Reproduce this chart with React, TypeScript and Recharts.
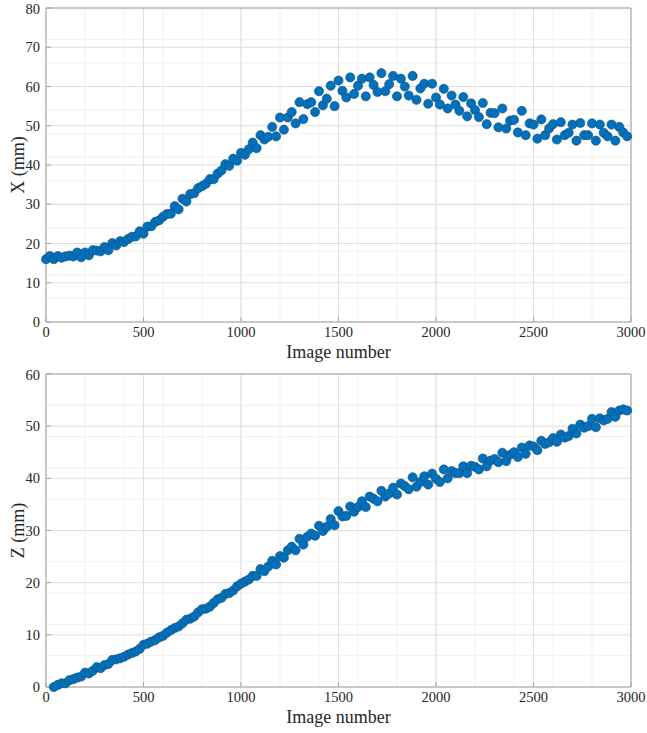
import React from 'react';
import {
  ScatterChart,
  Scatter,
  XAxis,
  YAxis,
  CartesianGrid
} from 'recharts';

// image numbers, one sample every 20 frames
const imageNumbers = [
  0, 20, 40, 60, 80, 100, 120, 140, 160, 180,
  200, 220, 240, 260, 280, 300, 320, 340, 360, 380,
  400, 420, 440, 460, 480, 500, 520, 540, 560, 580,
  600, 620, 640, 660, 680, 700, 720, 740, 760, 780,
  800, 820, 840, 860, 880, 900, 920, 940, 960, 980,
  1000, 1020, 1040, 1060, 1080, 1100, 1120, 1140, 1160, 1180,
  1200, 1220, 1240, 1260, 1280, 1300, 1320, 1340, 1360, 1380,
  1400, 1420, 1440, 1460, 1480, 1500, 1520, 1540, 1560, 1580,
  1600, 1620, 1640, 1660, 1680, 1700, 1720, 1740, 1760, 1780,
  1800, 1820, 1840, 1860, 1880, 1900, 1920, 1940, 1960, 1980,
  2000, 2020, 2040, 2060, 2080, 2100, 2120, 2140, 2160, 2180,
  2200, 2220, 2240, 2260, 2280, 2300, 2320, 2340, 2360, 2380,
  2400, 2420, 2440, 2460, 2480, 2500, 2520, 2540, 2560, 2580,
  2600, 2620, 2640, 2660, 2680, 2700, 2720, 2740, 2760, 2780,
  2800, 2820, 2840, 2860, 2880, 2900, 2920, 2940, 2960, 2980
];

// X position (mm), image 0 .. 2980
const xValues = [
  16.0, 16.8, 16.0, 16.8, 16.4, 16.7, 16.9, 16.7, 17.7, 16.5,
  17.7, 17.0, 18.3, 18.2, 18.0, 19.1, 18.3, 20.1, 19.5, 20.6,
  20.4, 21.1, 21.7, 21.8, 23.1, 22.5, 24.3, 24.4, 25.5, 25.9,
  26.8, 27.5, 27.6, 29.5, 28.7, 31.4, 30.7, 32.6, 32.8, 34.1,
  34.6, 35.2, 36.4, 36.4, 37.8, 38.6, 40.2, 39.8, 41.6, 41.1,
  43.1, 42.6, 44.0, 45.7, 44.3, 47.6, 46.5, 47.2, 49.7, 47.3,
  52.1, 49.0, 52.1, 53.5, 50.6, 56.0, 51.7, 55.5, 56.0, 53.5,
  58.8, 55.2, 56.9, 60.2, 55.0, 61.5, 58.9, 57.2, 62.3, 58.1,
  60.2, 62.0, 57.5, 62.3, 60.4, 58.6, 63.4, 58.8, 60.6, 62.7,
  57.5, 62.0, 60.0, 57.7, 62.7, 56.6, 59.5, 60.7, 55.6, 60.7,
  57.2, 55.4, 59.4, 54.4, 57.7, 55.4, 53.8, 57.3, 52.4, 55.7,
  54.0, 52.2, 55.8, 50.4, 53.3, 53.2, 49.6, 54.4, 49.3, 51.3,
  51.5, 48.3, 53.8, 47.6, 50.6, 50.3, 46.7, 51.6, 47.6, 49.3,
  50.4, 46.5, 50.9, 47.6, 48.2, 50.3, 46.2, 50.7, 47.6, 47.6,
  50.6, 46.2, 50.3, 48.2, 47.3, 50.3, 46.2, 49.7, 48.3, 47.3
];

// Z position (mm), image 40 .. 2980
const zValues = [
  0.0, 0.4, 0.7, 0.7, 1.3, 1.5, 1.8, 2.0, 2.75, 2.6,
  3.1, 3.8, 3.6, 4.2, 4.4, 5.2, 5.3, 5.5, 5.8, 6.2,
  6.5, 6.8, 7.3, 8.1, 8.3, 8.7, 9.0, 9.5, 9.8, 10.4,
  10.9, 11.3, 11.6, 12.2, 12.9, 13.1, 13.5, 14.3, 14.9, 15.0,
  15.4, 16.1, 16.8, 17.1, 17.85, 18.0, 18.5, 19.3, 19.8, 20.2,
  20.6, 21.3, 21.3, 22.6, 22.2, 23.1, 24.2, 23.5, 25.1, 24.8,
  26.2, 26.9, 26.2, 28.4, 27.3, 28.8, 29.4, 29.0, 30.9, 29.9,
  30.7, 32.2, 31.0, 33.7, 32.7, 32.8, 34.6, 33.6, 34.5, 35.6,
  34.5, 36.5, 36.1, 35.6, 37.6, 36.5, 37.1, 38.2, 36.9, 39.0,
  38.5, 37.9, 40.2, 38.4, 39.3, 40.4, 38.8, 40.9, 39.9, 39.3,
  41.7, 40.0, 41.4, 41.0, 41.0, 42.3, 41.0, 42.4, 42.2, 41.7,
  43.8, 42.3, 43.4, 43.7, 43.1, 44.9, 43.3, 44.5, 45.0, 44.1,
  45.9, 44.7, 46.3, 46.1, 45.4, 47.2, 46.6, 46.9, 47.7, 47.0,
  48.4, 47.8, 48.1, 49.5, 48.6, 50.3, 49.7, 50.0, 51.4, 49.8,
  51.5, 51.1, 51.4, 52.7, 51.8, 53.0, 53.2, 53.0
];

const xTicks = [0, 500, 1000, 1500, 2000, 2500, 3000];
const xTopTicks = [0, 10, 20, 30, 40, 50, 60, 70, 80];
const zTicks = [0, 10, 20, 30, 40, 50, 60];

const FONT = 'Liberation Serif';
const TICK_STYLE = { fontSize: 14.5, fill: '#262626', fontFamily: FONT, style: { fontFamily: FONT } };
const LABEL_STYLE = { fontSize: 18, fill: '#262626', fontFamily: FONT };
const AXIS_COLOR = '#a6a6a6';

const minorSteps = (max: number, step: number) => {
  const out: number[] = [];
  for (let v = 0; v <= max + 1e-9; v += step) out.push(Math.round(v * 100) / 100);
  return out;
};

const Dot = (props: any) => (
  <circle cx={props.cx} cy={props.cy} r={4.6} fill="#0072BD" stroke="#1a4a73" strokeWidth={0.6} />
);

interface PanelProps {
  data: { n: number; v: number }[];
  yMax: number;
  yTicks: number[];
  yLabel: string;
  height: number;
  bottomHeight: number;
  labelOffset: number;
}

const Panel: React.FC<PanelProps> = ({ data, yMax, yTicks, yLabel, height, bottomHeight, labelOffset }) => (
  <ScatterChart
    width={647}
    height={height}
    margin={{ top: 0, right: 0, left: 0, bottom: 0 }}
    style={{ fontFamily: FONT }}
  >
    {/* minor grid */}
    <CartesianGrid
      stroke="#f1f1f1"
      horizontalValues={minorSteps(yMax, 2)}
      verticalValues={minorSteps(3000, 100)}
    />
    {/* major grid */}
    <CartesianGrid stroke="#dedede" />
    <XAxis
      type="number"
      dataKey="n"
      domain={[0, 3000]}
      ticks={xTicks}
      height={bottomHeight}
      stroke={AXIS_COLOR}
      tickSize={-5}
      tickMargin={10}
      tick={TICK_STYLE}
      label={{
        value: 'Image number',
        position: 'insideBottom',
        offset: labelOffset,
        style: LABEL_STYLE
      }}
    />
    <XAxis
      xAxisId="top"
      orientation="top"
      type="number"
      domain={[0, 3000]}
      ticks={xTicks}
      height={8}
      stroke={AXIS_COLOR}
      tickSize={-5}
      tick={false}
    />
    <YAxis
      type="number"
      dataKey="v"
      domain={[0, yMax]}
      ticks={yTicks}
      width={46}
      stroke={AXIS_COLOR}
      tickSize={-5}
      tickMargin={11}
      tick={TICK_STYLE}
      label={{
        value: yLabel,
        angle: -90,
        position: 'insideLeft',
        offset: 18,
        style: { ...LABEL_STYLE, textAnchor: 'middle' }
      }}
    />
    <YAxis
      yAxisId="right"
      orientation="right"
      type="number"
      domain={[0, yMax]}
      ticks={yTicks}
      width={16}
      stroke={AXIS_COLOR}
      tickSize={-5}
      tick={false}
    />
    <Scatter data={data} shape={Dot} isAnimationActive={false} />
  </ScatterChart>
);

export default function App() {
  const topData = imageNumbers.map((n, i) => ({ n, v: xValues[i] }));
  const bottomData = imageNumbers.slice(2).map((n, i) => ({ n, v: zValues[i] }));

  return (
    <div
      style={{
        position: 'absolute',
        left: 0,
        top: 0,
        width: 647,
        height: 733,
        background: '#fff',
        fontFamily: FONT
      }}
    >
      <Panel data={topData} yMax={80} yTicks={xTopTicks} yLabel="X (mm)" height={366} bottomHeight={44} labelOffset={8} />
      <Panel data={bottomData} yMax={60} yTicks={zTicks} yLabel="Z (mm)" height={367} bottomHeight={46} labelOffset={10} />
    </div>
  );
}
